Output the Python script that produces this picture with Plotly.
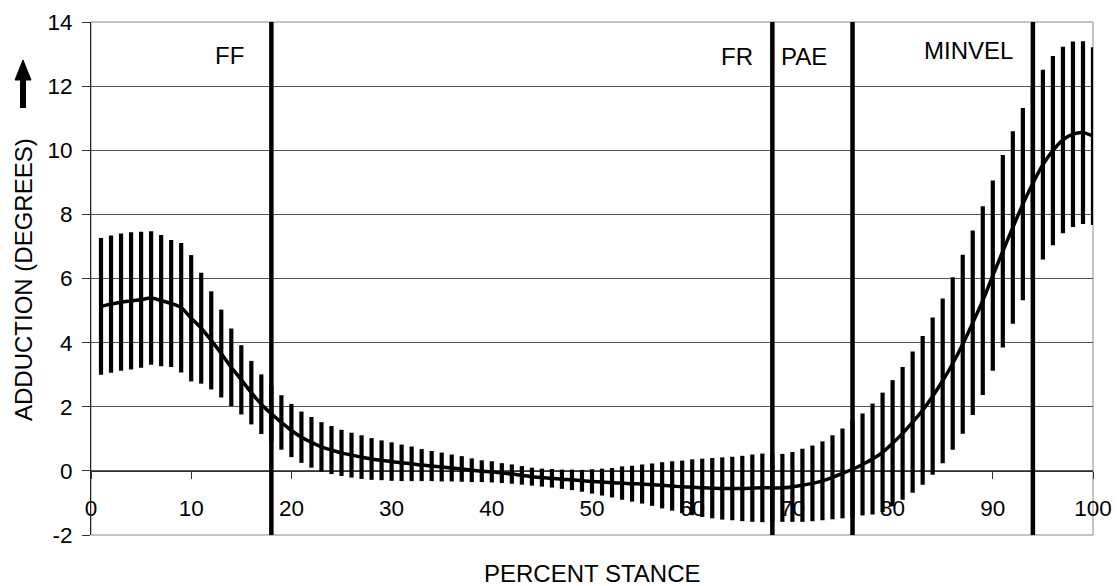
import plotly.graph_objects as go

# ---- data ----
percent_stance = list(range(1, 101))

mean_adduction = [
    5.13, 5.20, 5.26, 5.30, 5.34, 5.39, 5.31, 5.22, 5.09, 4.76,
    4.45, 4.07, 3.66, 3.23, 2.84, 2.44, 2.08, 1.78, 1.51, 1.26,
    1.05, 0.89, 0.75, 0.65, 0.56, 0.49, 0.43, 0.37, 0.33, 0.29,
    0.25, 0.22, 0.18, 0.15, 0.12, 0.09, 0.06, 0.02, -0.01, -0.03,
    -0.07, -0.10, -0.14, -0.18, -0.21, -0.23, -0.26, -0.28, -0.31, -0.33,
    -0.35, -0.37, -0.38, -0.40, -0.41, -0.43, -0.45, -0.47, -0.50, -0.51,
    -0.53, -0.54, -0.55, -0.55, -0.55, -0.54, -0.53, -0.53, -0.53, -0.50,
    -0.45, -0.39, -0.31, -0.20, -0.08, 0.05, 0.20, 0.37, 0.58, 0.86,
    1.17, 1.52, 1.89, 2.33, 2.81, 3.35, 3.95, 4.62, 5.31, 6.09,
    6.85, 7.59, 8.32, 8.97, 9.55, 9.99, 10.32, 10.50, 10.55, 10.44,
]

sd_adduction = [
    2.13, 2.14, 2.14, 2.14, 2.12, 2.08, 2.05, 1.98, 2.02, 1.97,
    1.73, 1.53, 1.37, 1.21, 1.08, 0.99, 0.93, 0.88, 0.85, 0.83,
    0.80, 0.79, 0.77, 0.75, 0.72, 0.70, 0.68, 0.65, 0.62, 0.60,
    0.57, 0.54, 0.50, 0.47, 0.45, 0.42, 0.40, 0.37, 0.34, 0.33,
    0.31, 0.30, 0.29, 0.28, 0.28, 0.29, 0.30, 0.32, 0.34, 0.38,
    0.42, 0.46, 0.52, 0.56, 0.61, 0.66, 0.72, 0.77, 0.82, 0.87,
    0.91, 0.94, 0.97, 0.99, 1.02, 1.05, 1.07, 1.06, 1.06, 1.09,
    1.14, 1.18, 1.23, 1.31, 1.40, 1.50, 1.59, 1.73, 1.86, 1.97,
    2.07, 2.20, 2.32, 2.45, 2.57, 2.69, 2.79, 2.88, 2.94, 2.97,
    3.00, 3.00, 3.00, 3.00, 2.96, 2.95, 2.91, 2.89, 2.85, 2.77,
]

event_positions = [18, 68, 76, 94]
event_labels = ["FF", "FR", "PAE", "MINVEL"]
x_tick_values = list(range(0, 101, 10))
y_tick_values = list(range(-2, 15, 2))
y_tick_text = [str(v) for v in y_tick_values]  # plain hyphen for "-2"

# ---- layout geometry ----
W, H = 1117, 586
ML, MR, MT, MB = 91, 24, 22, 51
PW, PH = W - ML - MR, H - MT - MB


def px_x(p):
    return (p - ML) / PW


def px_y(p):
    return (H - MB - p) / PH


FONT = "Liberation Sans, Arial, sans-serif"
TICK_SIZE = 22.5
TEXT_SIZE = 24

fig = go.Figure()

fig.add_trace(go.Scatter(
    x=percent_stance,
    y=mean_adduction,
    mode="lines",
    line=dict(color="black", width=3.5, shape="spline", smoothing=0.8),
    error_y=dict(type="data", array=sd_adduction, visible=True,
                 color="black", thickness=4.2, width=0),
    showlegend=False,
    hoverinfo="x+y",
))

shapes = []
# plot-area border
shapes.append(dict(type="rect", xref="x domain", yref="y domain",
                   x0=0, x1=1, y0=0, y1=1,
                   line=dict(color="#8a8a8a", width=1), layer="below"))
# event lines
for ev in event_positions:
    shapes.append(dict(type="line", xref="x", yref="y domain",
                       x0=ev, x1=ev, y0=0, y1=1,
                       line=dict(color="black", width=4.5)))
# arrow beside the y-axis title
ax_c = 23
shapes.append(dict(type="line", xref="paper", yref="paper",
                   x0=px_x(ax_c), x1=px_x(ax_c), y0=px_y(108), y1=px_y(76),
                   line=dict(color="black", width=6)))
shapes.append(dict(type="path", xref="paper", yref="paper",
                   path=(f"M {px_x(ax_c)} {px_y(60)} "
                         f"L {px_x(ax_c - 8)} {px_y(80)} "
                         f"L {px_x(ax_c + 8)} {px_y(80)} Z"),
                   fillcolor="black", line=dict(color="black", width=1)))

annotations = []
label_x = [13.8, 64.5, 71.2, 87.55]
label_y = [12.95, 12.93, 12.93, 13.12]
for lab, lx, ly in zip(event_labels, label_x, label_y):
    annotations.append(dict(x=lx, y=ly, xref="x", yref="y", text=lab,
                            showarrow=False, xanchor="center", yanchor="middle",
                            font=dict(family=FONT, size=TEXT_SIZE, color="black")))
annotations.append(dict(x=px_x(23), y=px_y(280), xref="paper", yref="paper",
                        text="ADDUCTION (DEGREES)", textangle=-90, showarrow=False,
                        xanchor="center", yanchor="middle",
                        font=dict(family=FONT, size=TEXT_SIZE, color="black")))
annotations.append(dict(x=px_x(592), y=px_y(573.5), xref="paper", yref="paper",
                        text="PERCENT STANCE", showarrow=False,
                        xanchor="center", yanchor="middle",
                        font=dict(family=FONT, size=TEXT_SIZE, color="black")))

fig.update_layout(
    width=W, height=H,
    margin=dict(l=ML, r=MR, t=MT, b=MB, autoexpand=False),
    paper_bgcolor="white", plot_bgcolor="white",
    font=dict(family=FONT, size=TICK_SIZE, color="black"),
    shapes=shapes, annotations=annotations,
    xaxis=dict(range=[0, 100], tickvals=x_tick_values, ticks="outside",
               ticklen=7, tickcolor="#333", tickwidth=1,
               showline=True, linecolor="#333", linewidth=1,
               showgrid=False, zeroline=False,
               anchor="free", position=(0 - (-2)) / 16,
               ticklabelstandoff=10, layer="below traces",
               tickfont=dict(family=FONT, size=TICK_SIZE, color="black"),
               automargin=False, fixedrange=True),
    yaxis=dict(range=[-2, 14], tickvals=y_tick_values, ticktext=y_tick_text,
               ticks="outside",
               ticklen=8, tickcolor="#333", tickwidth=1,
               showline=True, linecolor="#222", linewidth=1,
               showgrid=True, gridcolor="#555", gridwidth=1,
               zeroline=False, ticklabelstandoff=5,
               tickfont=dict(family=FONT, size=TICK_SIZE, color="black"),
               automargin=False, fixedrange=True),
)

fig.write_html(
    "out.html",
    config={"displayModeBar": False},
    post_script="document.body.style.margin='0';document.body.style.overflow='hidden';",
)
